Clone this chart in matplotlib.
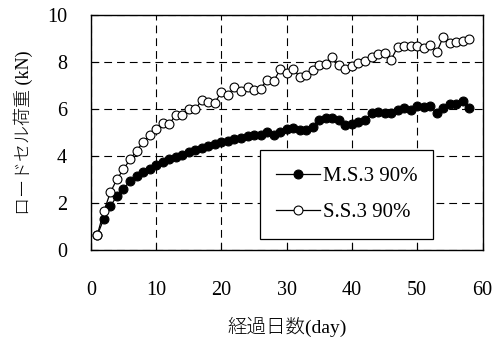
import matplotlib
matplotlib.use("Agg")
import matplotlib.pyplot as plt
import numpy as np

plt.rcParams['font.family'] = ['Liberation Serif', 'Noto Sans CJK JP']

# 経過日数
days = np.arange(1, 59)

# M.S.3 90% ロードセル荷重 (kN)
ms3 = [0.65, 1.35, 1.88, 2.32, 2.62, 2.95, 3.15, 3.32, 3.48, 3.63,
       3.75, 3.87, 3.98, 4.08, 4.17, 4.26, 4.35, 4.45, 4.53, 4.60,
       4.66, 4.73, 4.80, 4.85, 4.90, 4.93, 5.05, 4.90, 5.05, 5.18,
       5.19, 5.12, 5.12, 5.26, 5.57, 5.64, 5.64, 5.54, 5.33, 5.37,
       5.47, 5.54, 5.86, 5.90, 5.83, 5.86, 5.97, 6.08, 5.97, 6.14,
       6.11, 6.14, 5.83, 6.08, 6.25, 6.23, 6.35, 6.07]

# S.S.3 90% ロードセル荷重 (kN)
ss3 = [0.67, 1.67, 2.47, 3.03, 3.45, 3.87, 4.24, 4.60, 4.90, 5.17,
       5.42, 5.37, 5.76, 5.76, 6.02, 6.00, 6.40, 6.32, 6.28, 6.75,
       6.62, 6.95, 6.80, 6.95, 6.84, 6.89, 7.25, 7.20, 7.70, 7.53,
       7.71, 7.39, 7.46, 7.67, 7.89, 7.93, 8.21, 7.89, 7.74, 7.86,
       7.98, 8.07, 8.21, 8.35, 8.38, 8.12, 8.66, 8.69, 8.69, 8.69,
       8.60, 8.74, 8.45, 9.09, 8.81, 8.88, 8.90, 8.99]

fig = plt.figure(figsize=(4.99, 3.43), dpi=100)
ax = fig.add_axes([0.182, 0.270, 0.785, 0.685])

ax.plot(days, ms3, color='black', lw=0.9, marker='o', ms=6.4,
        mfc='black', mec='black', mew=0.8, label='M.S.3 90%', zorder=3)
ax.plot(days, ss3, color='black', lw=0.9, marker='o', ms=6.4,
        mfc='white', mec='black', mew=0.8, label='S.S.3 90%', zorder=4)

ax.set_xlim(0, 60)
ax.set_ylim(0, 10)
ax.set_xticks(np.arange(0, 61, 10))
ax.set_yticks(np.arange(0, 11, 2))
ax.grid(True, color='black', ls=(0, (7, 4.5)), lw=0.8)
ax.set_axisbelow(True)

ax.tick_params(axis='x', direction='in', length=5, width=0.8, pad=22, labelsize=14.5)
ax.tick_params(axis='y', direction='in', length=5, width=0.8, pad=17, labelsize=14.5)
for s in ax.spines.values():
    s.set_linewidth(1.0)

ax.set_xlabel('経過日数(day)', fontsize=14, labelpad=12, fontweight='light')
ax.set_ylabel('ロードセル荷重 (kN)', fontsize=13, labelpad=10, fontweight='light')

leg = ax.legend(loc='lower left', bbox_to_anchor=(0.431, 0.049, 0.442, 0.366),
                mode='expand', fontsize=15, frameon=True, fancybox=False,
                edgecolor='black', framealpha=1, handlelength=2.1,
                handletextpad=0.15, borderaxespad=0, labelspacing=0.8,
                borderpad=0.8)
leg.get_frame().set_linewidth(0.9)

fig.savefig('out.png', dpi=100)
